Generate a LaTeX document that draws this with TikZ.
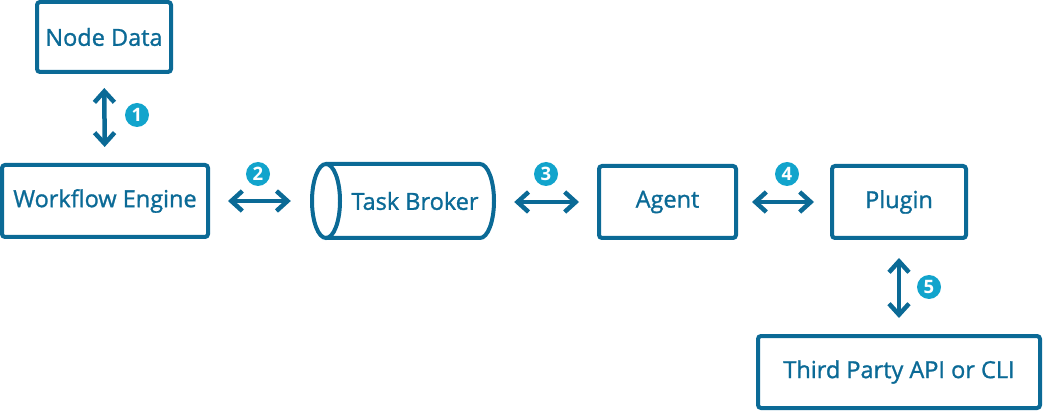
\documentclass[tikz,border=0pt]{standalone}
\usepackage{fontspec}
\setmainfont{Open Sans}
\newfontfamily\semi{Open Sans}[FakeBold=1.2]
\usetikzlibrary{arrows.meta}
\definecolor{bluedark}{HTML}{0B6A96}
\definecolor{bluelight}{HTML}{12A4CC}
\tikzset{
  lbl/.style={text=bluedark, font=\semi\fontsize{23.5}{26}\selectfont, inner sep=0pt, anchor=center},
  box/.style={lbl, draw=bluedark, line width=4pt, rounded corners=3pt},
  conn/.style={draw=bluedark, line width=4.5pt,
    {Straight Barb[length=11pt,width=20pt,line width=4.5pt]}-{Straight Barb[length=11pt,width=20pt,line width=4.5pt]}},
  num/.style={circle, fill=bluelight, text=white, inner sep=0pt, minimum size=24pt,
    font=\bfseries\fontsize{18.5}{18.5}\selectfont}
}
\begin{document}
\begin{tikzpicture}[x=1pt,y=-1pt]
\useasboundingbox (0,0) rectangle (1043,411);
% boxes
\node[box, minimum width=134pt, minimum height=70pt] (nd) at (104,37) {\raisebox{-1.5pt}{Node Data}};
\node[box, minimum width=206pt, minimum height=72pt] (we) at (105,201) {\raisebox{-1.5pt}{Workflow Engine}};
\node[box, minimum width=137pt, minimum height=72pt] (ag) at (667.5,202) {\raisebox{-1.5pt}{Agent}};
\node[box, minimum width=134pt, minimum height=72pt] (pl) at (899,202) {\raisebox{-1.5pt}{Plugin}};
\node[box, minimum width=282pt, minimum height=72pt] (tp) at (899,372) {\raisebox{-1.5pt}{Third Party API or CLI}};
% cylinder
\draw[bluedark, line width=4pt] (326,164) -- (480,164) arc[start angle=90, end angle=-90, x radius=14pt, y radius=37pt] -- (326,238);
\draw[bluedark, line width=4pt] (326,201) ellipse[x radius=14pt, y radius=37pt];
\node[lbl, minimum width=182pt, minimum height=74pt] (tb) at (403,201) {\hspace{24pt}\raisebox{-1.5pt}{Task Broker}};
% connectors
\draw[conn, shorten <=14pt, shorten >=16pt] (nd) -- (we);
\draw[conn, shorten <=18pt, shorten >=21pt] (we.east |- tb.west) -- (tb.west);
\draw[conn, shorten <=20pt, shorten >=18pt] (tb.east |- ag.west) -- (ag.west);
\draw[conn, shorten <=14pt, shorten >=16pt] (ag) -- (pl);
\draw[conn, shorten <=18pt, shorten >=16pt] (pl) -- (tp);
% numbers
\node[num] (n1) at (137,115) {1};
\node[num] (n2) at (258,174) {2};
\node[num] (n3) at (546,174) {3};
\node[num] (n4) at (787,174) {4};
\node[num] (n5) at (929,287) {5};
\end{tikzpicture}
\end{document}
